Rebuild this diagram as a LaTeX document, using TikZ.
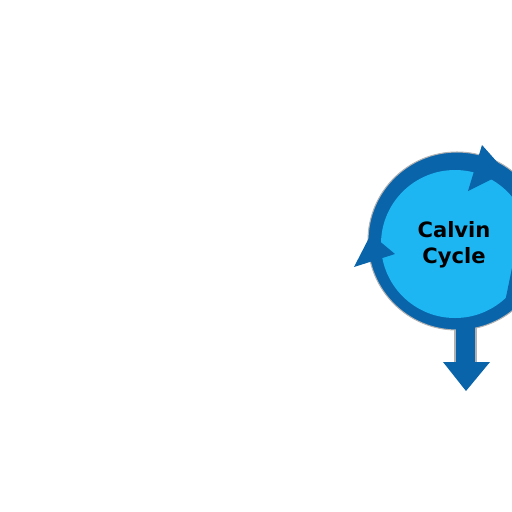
\documentclass[tikz,border=0pt]{standalone}
\usepackage{fontspec}
\setsansfont{DejaVu Sans}
\definecolor{ringblue}{HTML}{0A64AA}
\definecolor{cycleblue}{HTML}{1EB6F2}
\begin{document}
\begin{tikzpicture}[x=0.02cm, y=-0.02cm]
        \useasboundingbox (0,0) rectangle (512,512);
        \clip (0,0) rectangle (512,512);
        % outer ring and stem
        \fill[ringblue, draw=gray!60, line width=0.6pt] (455,322) rectangle (476,364);
        \fill[ringblue, draw=gray!60, line width=0.6pt] (457,241) circle (89);
        \fill[ringblue] (443,362)--(490,362)--(466,391)--cycle;
        \fill[ringblue] (456,318) rectangle (475,364);
        % inner disc
        \fill[cycleblue] (455,244) circle (74);
        % arrow heads
        \fill[ringblue] (482,145)--(506,172)--(468,191)--cycle;
        \fill[ringblue] (354,267)--(371,234)--(395,254)--cycle;
        \fill[ringblue] (512,268)--(535,290)--(505,302)--cycle;
        \node[font=\sffamily\bfseries\fontsize{12}{15}\selectfont, align=center] (calvin) at (454,245) {Calvin\\Cycle};
\end{tikzpicture}
\end{document}
